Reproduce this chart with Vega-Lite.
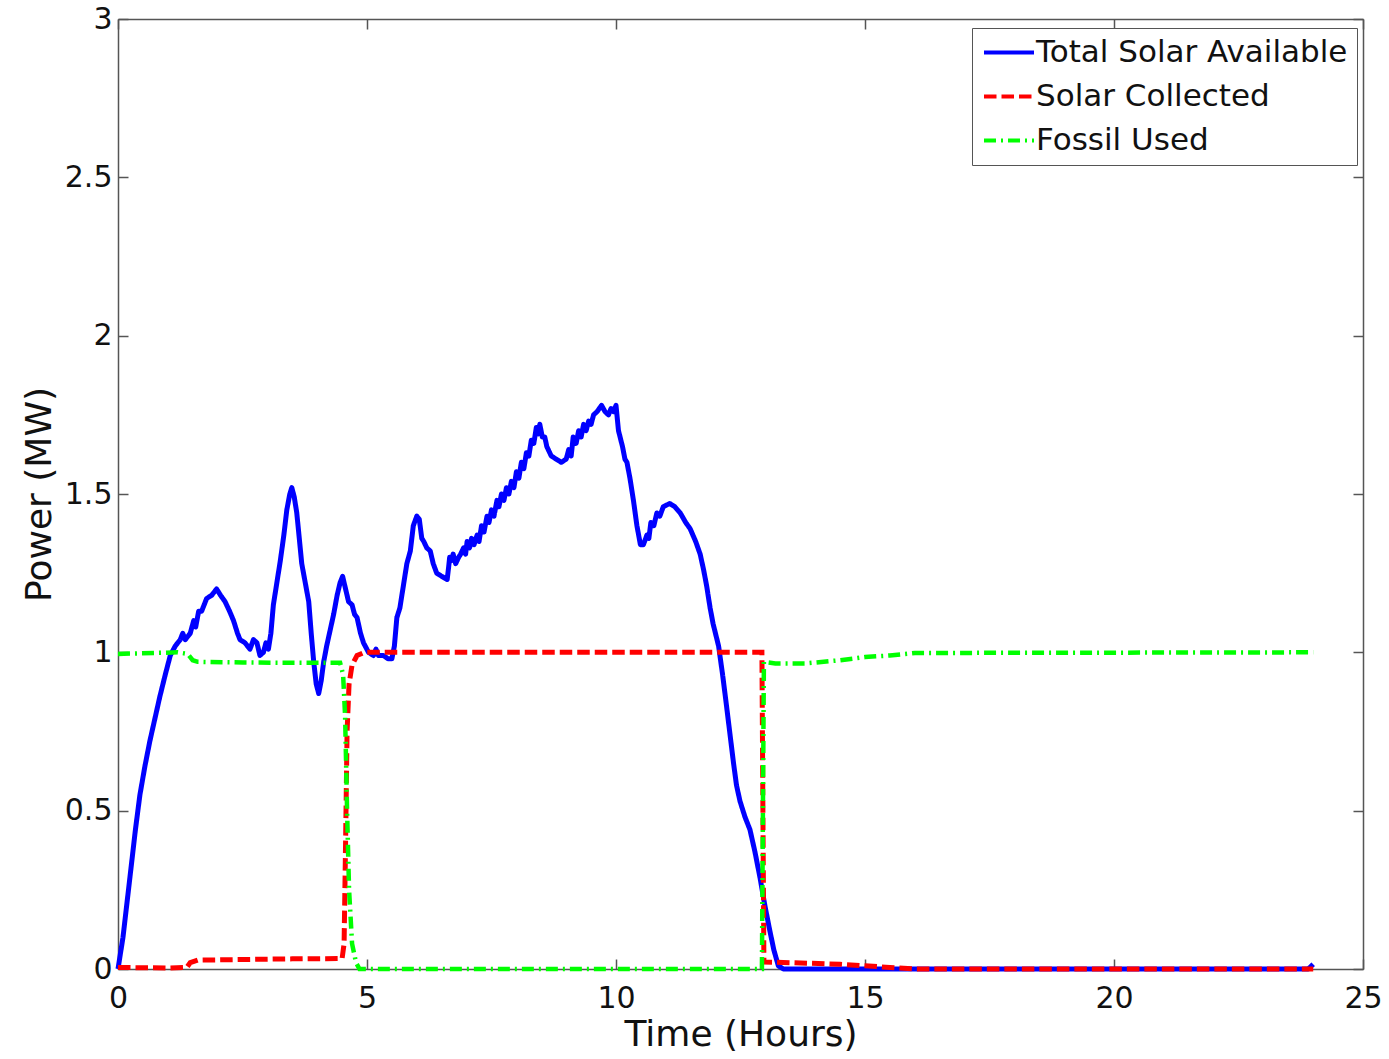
{
  "$schema": "https://vega.github.io/schema/vega-lite/v6.json",
  "width": 1245,
  "height": 950,
  "autosize": {"type": "none"},
  "padding": {"left": 118, "top": 19, "right": 26, "bottom": 90},
  "background": "white",
  "config": {
    "view": {"stroke": null},
    "font": "DejaVu Sans",
    "axis": {
      "grid": false,
      "domainColor": "#555555",
      "domainWidth": 1.5,
      "tickColor": "#555555",
      "tickWidth": 1.5,
      "tickSize": -10,
      "labelFont": "DejaVu Sans",
      "labelFontSize": 30,
      "labelColor": "#111111",
      "labelFlush": false,
      "labelOverlap": false,
      "titleFont": "DejaVu Sans",
      "titleFontSize": 36,
      "titleFontWeight": "normal",
      "titleColor": "#111111"
    },
    "legend": {
      "orient": "none",
      "legendX": 854,
      "legendY": 9,
      "labelFont": "DejaVu Sans",
      "labelFontSize": 31,
      "labelColor": "#111111",
      "labelLimit": 0,
      "labelOffset": 24,
      "symbolType": "M-1,0H3",
      "symbolSize": 625,
      "symbolStrokeWidth": 4,
      "strokeColor": "#555555",
      "fillColor": "white",
      "padding": 9,
      "rowPadding": 12,
      "cornerRadius": 0
    }
  },
  "datasets": {
    "solar": [
      {"t": 0, "v": 0, "s": "Total Solar Available"},
      {"t": 0.1, "v": 0.1, "s": "Total Solar Available"},
      {"t": 0.24, "v": 0.29, "s": "Total Solar Available"},
      {"t": 0.35, "v": 0.44, "s": "Total Solar Available"},
      {"t": 0.44, "v": 0.55, "s": "Total Solar Available"},
      {"t": 0.54, "v": 0.64, "s": "Total Solar Available"},
      {"t": 0.64, "v": 0.72, "s": "Total Solar Available"},
      {"t": 0.74, "v": 0.79, "s": "Total Solar Available"},
      {"t": 0.84, "v": 0.86, "s": "Total Solar Available"},
      {"t": 0.95, "v": 0.93, "s": "Total Solar Available"},
      {"t": 1.05, "v": 0.99, "s": "Total Solar Available"},
      {"t": 1.15, "v": 1.02, "s": "Total Solar Available"},
      {"t": 1.25, "v": 1.04, "s": "Total Solar Available"},
      {"t": 1.3, "v": 1.06, "s": "Total Solar Available"},
      {"t": 1.35, "v": 1.04, "s": "Total Solar Available"},
      {"t": 1.45, "v": 1.06, "s": "Total Solar Available"},
      {"t": 1.52, "v": 1.1, "s": "Total Solar Available"},
      {"t": 1.56, "v": 1.08, "s": "Total Solar Available"},
      {"t": 1.62, "v": 1.13, "s": "Total Solar Available"},
      {"t": 1.68, "v": 1.13, "s": "Total Solar Available"},
      {"t": 1.78, "v": 1.17, "s": "Total Solar Available"},
      {"t": 1.88, "v": 1.18, "s": "Total Solar Available"},
      {"t": 1.98, "v": 1.2, "s": "Total Solar Available"},
      {"t": 2.06, "v": 1.18, "s": "Total Solar Available"},
      {"t": 2.15, "v": 1.16, "s": "Total Solar Available"},
      {"t": 2.24, "v": 1.13, "s": "Total Solar Available"},
      {"t": 2.32, "v": 1.1, "s": "Total Solar Available"},
      {"t": 2.4, "v": 1.06, "s": "Total Solar Available"},
      {"t": 2.45, "v": 1.04, "s": "Total Solar Available"},
      {"t": 2.55, "v": 1.03, "s": "Total Solar Available"},
      {"t": 2.65, "v": 1.01, "s": "Total Solar Available"},
      {"t": 2.72, "v": 1.04, "s": "Total Solar Available"},
      {"t": 2.79, "v": 1.03, "s": "Total Solar Available"},
      {"t": 2.85, "v": 0.99, "s": "Total Solar Available"},
      {"t": 2.92, "v": 1.0, "s": "Total Solar Available"},
      {"t": 2.97, "v": 1.03, "s": "Total Solar Available"},
      {"t": 3.02, "v": 1.01, "s": "Total Solar Available"},
      {"t": 3.07, "v": 1.06, "s": "Total Solar Available"},
      {"t": 3.12, "v": 1.15, "s": "Total Solar Available"},
      {"t": 3.19, "v": 1.22, "s": "Total Solar Available"},
      {"t": 3.26, "v": 1.29, "s": "Total Solar Available"},
      {"t": 3.33, "v": 1.37, "s": "Total Solar Available"},
      {"t": 3.39, "v": 1.45, "s": "Total Solar Available"},
      {"t": 3.45, "v": 1.5, "s": "Total Solar Available"},
      {"t": 3.49, "v": 1.52, "s": "Total Solar Available"},
      {"t": 3.54, "v": 1.49, "s": "Total Solar Available"},
      {"t": 3.59, "v": 1.44, "s": "Total Solar Available"},
      {"t": 3.64, "v": 1.36, "s": "Total Solar Available"},
      {"t": 3.69, "v": 1.28, "s": "Total Solar Available"},
      {"t": 3.76, "v": 1.22, "s": "Total Solar Available"},
      {"t": 3.83, "v": 1.16, "s": "Total Solar Available"},
      {"t": 3.88, "v": 1.06, "s": "Total Solar Available"},
      {"t": 3.93, "v": 0.97, "s": "Total Solar Available"},
      {"t": 3.98, "v": 0.9, "s": "Total Solar Available"},
      {"t": 4.03, "v": 0.87, "s": "Total Solar Available"},
      {"t": 4.08, "v": 0.91, "s": "Total Solar Available"},
      {"t": 4.13, "v": 0.97, "s": "Total Solar Available"},
      {"t": 4.19, "v": 1.02, "s": "Total Solar Available"},
      {"t": 4.26, "v": 1.07, "s": "Total Solar Available"},
      {"t": 4.33, "v": 1.12, "s": "Total Solar Available"},
      {"t": 4.4, "v": 1.18, "s": "Total Solar Available"},
      {"t": 4.46, "v": 1.22, "s": "Total Solar Available"},
      {"t": 4.51, "v": 1.24, "s": "Total Solar Available"},
      {"t": 4.57, "v": 1.2, "s": "Total Solar Available"},
      {"t": 4.63, "v": 1.16, "s": "Total Solar Available"},
      {"t": 4.7, "v": 1.15, "s": "Total Solar Available"},
      {"t": 4.75, "v": 1.12, "s": "Total Solar Available"},
      {"t": 4.8, "v": 1.11, "s": "Total Solar Available"},
      {"t": 4.87, "v": 1.06, "s": "Total Solar Available"},
      {"t": 4.93, "v": 1.03, "s": "Total Solar Available"},
      {"t": 5.03, "v": 1.0, "s": "Total Solar Available"},
      {"t": 5.13, "v": 0.99, "s": "Total Solar Available"},
      {"t": 5.18, "v": 1.01, "s": "Total Solar Available"},
      {"t": 5.23, "v": 0.99, "s": "Total Solar Available"},
      {"t": 5.33, "v": 0.99, "s": "Total Solar Available"},
      {"t": 5.42, "v": 0.98, "s": "Total Solar Available"},
      {"t": 5.5, "v": 0.98, "s": "Total Solar Available"},
      {"t": 5.55, "v": 1.02, "s": "Total Solar Available"},
      {"t": 5.6, "v": 1.11, "s": "Total Solar Available"},
      {"t": 5.66, "v": 1.14, "s": "Total Solar Available"},
      {"t": 5.74, "v": 1.22, "s": "Total Solar Available"},
      {"t": 5.8, "v": 1.28, "s": "Total Solar Available"},
      {"t": 5.87, "v": 1.32, "s": "Total Solar Available"},
      {"t": 5.93, "v": 1.4, "s": "Total Solar Available"},
      {"t": 6.0, "v": 1.43, "s": "Total Solar Available"},
      {"t": 6.05, "v": 1.42, "s": "Total Solar Available"},
      {"t": 6.1, "v": 1.36, "s": "Total Solar Available"},
      {"t": 6.14, "v": 1.35, "s": "Total Solar Available"},
      {"t": 6.2, "v": 1.33, "s": "Total Solar Available"},
      {"t": 6.27, "v": 1.32, "s": "Total Solar Available"},
      {"t": 6.33, "v": 1.28, "s": "Total Solar Available"},
      {"t": 6.4, "v": 1.25, "s": "Total Solar Available"},
      {"t": 6.5, "v": 1.24, "s": "Total Solar Available"},
      {"t": 6.61, "v": 1.23, "s": "Total Solar Available"},
      {"t": 6.64, "v": 1.27, "s": "Total Solar Available"},
      {"t": 6.66, "v": 1.3, "s": "Total Solar Available"},
      {"t": 6.7, "v": 1.29, "s": "Total Solar Available"},
      {"t": 6.73, "v": 1.31, "s": "Total Solar Available"},
      {"t": 6.78, "v": 1.28, "s": "Total Solar Available"},
      {"t": 6.84, "v": 1.3, "s": "Total Solar Available"},
      {"t": 6.88, "v": 1.31, "s": "Total Solar Available"},
      {"t": 6.94, "v": 1.33, "s": "Total Solar Available"},
      {"t": 6.98, "v": 1.31, "s": "Total Solar Available"},
      {"t": 7.01, "v": 1.35, "s": "Total Solar Available"},
      {"t": 7.06, "v": 1.33, "s": "Total Solar Available"},
      {"t": 7.1, "v": 1.36, "s": "Total Solar Available"},
      {"t": 7.15, "v": 1.34, "s": "Total Solar Available"},
      {"t": 7.21, "v": 1.37, "s": "Total Solar Available"},
      {"t": 7.25, "v": 1.35, "s": "Total Solar Available"},
      {"t": 7.3, "v": 1.4, "s": "Total Solar Available"},
      {"t": 7.35, "v": 1.38, "s": "Total Solar Available"},
      {"t": 7.41, "v": 1.43, "s": "Total Solar Available"},
      {"t": 7.45, "v": 1.41, "s": "Total Solar Available"},
      {"t": 7.5, "v": 1.45, "s": "Total Solar Available"},
      {"t": 7.55, "v": 1.43, "s": "Total Solar Available"},
      {"t": 7.61, "v": 1.48, "s": "Total Solar Available"},
      {"t": 7.65, "v": 1.46, "s": "Total Solar Available"},
      {"t": 7.7, "v": 1.5, "s": "Total Solar Available"},
      {"t": 7.75, "v": 1.48, "s": "Total Solar Available"},
      {"t": 7.8, "v": 1.52, "s": "Total Solar Available"},
      {"t": 7.85, "v": 1.5, "s": "Total Solar Available"},
      {"t": 7.9, "v": 1.54, "s": "Total Solar Available"},
      {"t": 7.95, "v": 1.52, "s": "Total Solar Available"},
      {"t": 8.0, "v": 1.57, "s": "Total Solar Available"},
      {"t": 8.05, "v": 1.55, "s": "Total Solar Available"},
      {"t": 8.1, "v": 1.6, "s": "Total Solar Available"},
      {"t": 8.15, "v": 1.58, "s": "Total Solar Available"},
      {"t": 8.2, "v": 1.63, "s": "Total Solar Available"},
      {"t": 8.25, "v": 1.62, "s": "Total Solar Available"},
      {"t": 8.3, "v": 1.67, "s": "Total Solar Available"},
      {"t": 8.35, "v": 1.66, "s": "Total Solar Available"},
      {"t": 8.4, "v": 1.71, "s": "Total Solar Available"},
      {"t": 8.44, "v": 1.69, "s": "Total Solar Available"},
      {"t": 8.47, "v": 1.72, "s": "Total Solar Available"},
      {"t": 8.52, "v": 1.68, "s": "Total Solar Available"},
      {"t": 8.57, "v": 1.68, "s": "Total Solar Available"},
      {"t": 8.61, "v": 1.65, "s": "Total Solar Available"},
      {"t": 8.7, "v": 1.62, "s": "Total Solar Available"},
      {"t": 8.8, "v": 1.61, "s": "Total Solar Available"},
      {"t": 8.9, "v": 1.6, "s": "Total Solar Available"},
      {"t": 9.0, "v": 1.61, "s": "Total Solar Available"},
      {"t": 9.05, "v": 1.64, "s": "Total Solar Available"},
      {"t": 9.1, "v": 1.62, "s": "Total Solar Available"},
      {"t": 9.14, "v": 1.68, "s": "Total Solar Available"},
      {"t": 9.2, "v": 1.66, "s": "Total Solar Available"},
      {"t": 9.25, "v": 1.7, "s": "Total Solar Available"},
      {"t": 9.3, "v": 1.68, "s": "Total Solar Available"},
      {"t": 9.35, "v": 1.72, "s": "Total Solar Available"},
      {"t": 9.4, "v": 1.7, "s": "Total Solar Available"},
      {"t": 9.45, "v": 1.73, "s": "Total Solar Available"},
      {"t": 9.5, "v": 1.72, "s": "Total Solar Available"},
      {"t": 9.55, "v": 1.75, "s": "Total Solar Available"},
      {"t": 9.62, "v": 1.76, "s": "Total Solar Available"},
      {"t": 9.71, "v": 1.78, "s": "Total Solar Available"},
      {"t": 9.78, "v": 1.76, "s": "Total Solar Available"},
      {"t": 9.85, "v": 1.75, "s": "Total Solar Available"},
      {"t": 9.9, "v": 1.77, "s": "Total Solar Available"},
      {"t": 9.95, "v": 1.76, "s": "Total Solar Available"},
      {"t": 10.0, "v": 1.78, "s": "Total Solar Available"},
      {"t": 10.05, "v": 1.7, "s": "Total Solar Available"},
      {"t": 10.13, "v": 1.65, "s": "Total Solar Available"},
      {"t": 10.18, "v": 1.61, "s": "Total Solar Available"},
      {"t": 10.22, "v": 1.6, "s": "Total Solar Available"},
      {"t": 10.28, "v": 1.55, "s": "Total Solar Available"},
      {"t": 10.35, "v": 1.48, "s": "Total Solar Available"},
      {"t": 10.42, "v": 1.4, "s": "Total Solar Available"},
      {"t": 10.49, "v": 1.34, "s": "Total Solar Available"},
      {"t": 10.55, "v": 1.34, "s": "Total Solar Available"},
      {"t": 10.62, "v": 1.37, "s": "Total Solar Available"},
      {"t": 10.66, "v": 1.36, "s": "Total Solar Available"},
      {"t": 10.7, "v": 1.41, "s": "Total Solar Available"},
      {"t": 10.76, "v": 1.4, "s": "Total Solar Available"},
      {"t": 10.82, "v": 1.44, "s": "Total Solar Available"},
      {"t": 10.88, "v": 1.43, "s": "Total Solar Available"},
      {"t": 10.95, "v": 1.46, "s": "Total Solar Available"},
      {"t": 11.08, "v": 1.47, "s": "Total Solar Available"},
      {"t": 11.18, "v": 1.46, "s": "Total Solar Available"},
      {"t": 11.29, "v": 1.44, "s": "Total Solar Available"},
      {"t": 11.4, "v": 1.41, "s": "Total Solar Available"},
      {"t": 11.49, "v": 1.39, "s": "Total Solar Available"},
      {"t": 11.6, "v": 1.35, "s": "Total Solar Available"},
      {"t": 11.69, "v": 1.31, "s": "Total Solar Available"},
      {"t": 11.76, "v": 1.26, "s": "Total Solar Available"},
      {"t": 11.82, "v": 1.21, "s": "Total Solar Available"},
      {"t": 11.89, "v": 1.14, "s": "Total Solar Available"},
      {"t": 11.95, "v": 1.09, "s": "Total Solar Available"},
      {"t": 12.06, "v": 1.02, "s": "Total Solar Available"},
      {"t": 12.14, "v": 0.93, "s": "Total Solar Available"},
      {"t": 12.22, "v": 0.83, "s": "Total Solar Available"},
      {"t": 12.29, "v": 0.74, "s": "Total Solar Available"},
      {"t": 12.36, "v": 0.65, "s": "Total Solar Available"},
      {"t": 12.42, "v": 0.58, "s": "Total Solar Available"},
      {"t": 12.49, "v": 0.53, "s": "Total Solar Available"},
      {"t": 12.59, "v": 0.48, "s": "Total Solar Available"},
      {"t": 12.69, "v": 0.44, "s": "Total Solar Available"},
      {"t": 12.79, "v": 0.37, "s": "Total Solar Available"},
      {"t": 12.89, "v": 0.29, "s": "Total Solar Available"},
      {"t": 12.99, "v": 0.2, "s": "Total Solar Available"},
      {"t": 13.09, "v": 0.12, "s": "Total Solar Available"},
      {"t": 13.17, "v": 0.06, "s": "Total Solar Available"},
      {"t": 13.26, "v": 0.01, "s": "Total Solar Available"},
      {"t": 13.36, "v": 0.0, "s": "Total Solar Available"},
      {"t": 23.9, "v": 0.0, "s": "Total Solar Available"},
      {"t": 24.0, "v": 0.015, "s": "Total Solar Available"}
    ],
    "collected": [
      {"t": 0, "v": 0.005, "s": "Solar Collected"},
      {"t": 1.0, "v": 0.003, "s": "Solar Collected"},
      {"t": 1.38, "v": 0.005, "s": "Solar Collected"},
      {"t": 1.45, "v": 0.02, "s": "Solar Collected"},
      {"t": 1.6, "v": 0.028, "s": "Solar Collected"},
      {"t": 2.5, "v": 0.03, "s": "Solar Collected"},
      {"t": 3.5, "v": 0.032, "s": "Solar Collected"},
      {"t": 4.5, "v": 0.033, "s": "Solar Collected"},
      {"t": 4.54, "v": 0.08, "s": "Solar Collected"},
      {"t": 4.57, "v": 0.4, "s": "Solar Collected"},
      {"t": 4.6, "v": 0.75, "s": "Solar Collected"},
      {"t": 4.64, "v": 0.9, "s": "Solar Collected"},
      {"t": 4.7, "v": 0.96, "s": "Solar Collected"},
      {"t": 4.8, "v": 0.99, "s": "Solar Collected"},
      {"t": 4.95, "v": 1.0, "s": "Solar Collected"},
      {"t": 12.93, "v": 1.0, "s": "Solar Collected"},
      {"t": 12.95, "v": 0.5, "s": "Solar Collected"},
      {"t": 12.97, "v": 0.022, "s": "Solar Collected"},
      {"t": 13.5, "v": 0.02, "s": "Solar Collected"},
      {"t": 14.5, "v": 0.015, "s": "Solar Collected"},
      {"t": 15.0, "v": 0.01, "s": "Solar Collected"},
      {"t": 15.5, "v": 0.005, "s": "Solar Collected"},
      {"t": 16.0, "v": 0.0, "s": "Solar Collected"},
      {"t": 24.0, "v": 0.0, "s": "Solar Collected"}
    ],
    "fossil": [
      {"t": 0, "v": 0.995, "s": "Fossil Used"},
      {"t": 1.2, "v": 1.0, "s": "Fossil Used"},
      {"t": 1.4, "v": 0.995, "s": "Fossil Used"},
      {"t": 1.5, "v": 0.975, "s": "Fossil Used"},
      {"t": 1.6, "v": 0.97, "s": "Fossil Used"},
      {"t": 2.5, "v": 0.968, "s": "Fossil Used"},
      {"t": 3.5, "v": 0.967, "s": "Fossil Used"},
      {"t": 4.46, "v": 0.967, "s": "Fossil Used"},
      {"t": 4.52, "v": 0.93, "s": "Fossil Used"},
      {"t": 4.56, "v": 0.8, "s": "Fossil Used"},
      {"t": 4.6, "v": 0.5, "s": "Fossil Used"},
      {"t": 4.64, "v": 0.25, "s": "Fossil Used"},
      {"t": 4.7, "v": 0.08, "s": "Fossil Used"},
      {"t": 4.78, "v": 0.02, "s": "Fossil Used"},
      {"t": 4.85, "v": 0.0, "s": "Fossil Used"},
      {"t": 12.93, "v": 0.0, "s": "Fossil Used"},
      {"t": 12.95, "v": 0.5, "s": "Fossil Used"},
      {"t": 12.97, "v": 0.97, "s": "Fossil Used"},
      {"t": 13.2, "v": 0.965, "s": "Fossil Used"},
      {"t": 13.8, "v": 0.965, "s": "Fossil Used"},
      {"t": 14.5, "v": 0.975, "s": "Fossil Used"},
      {"t": 15.0, "v": 0.985, "s": "Fossil Used"},
      {"t": 15.5, "v": 0.99, "s": "Fossil Used"},
      {"t": 16.0, "v": 0.998, "s": "Fossil Used"},
      {"t": 24.0, "v": 1.0, "s": "Fossil Used"}
    ],
    "frame": [{"t": 0, "v": 0}]
  },
  "layer": [
    {
      "data": {"name": "solar"},
      "mark": {"type": "line", "strokeWidth": 5, "strokeJoin": "round"},
      "encoding": {
        "x": {"field": "t", "type": "quantitative", "scale": {"domain": [0, 25], "nice": false, "zero": false},
              "axis": {"orient": "bottom", "values": [0, 5, 10, 15, 20, 25], "format": "~g", "title": "Time (Hours)", "labelPadding": 24, "titleBaseline": "alphabetic", "titleY": 76}},
        "y": {"field": "v", "type": "quantitative", "scale": {"domain": [0, 3], "nice": false, "zero": false},
              "axis": {"orient": "left", "values": [0, 0.5, 1, 1.5, 2, 2.5, 3], "format": "~g", "title": "Power (MW)", "labelPadding": 16, "titleBaseline": "alphabetic", "titleX": -68}},
        "color": {"field": "s", "type": "nominal", "title": null,
                  "scale": {"domain": ["Total Solar Available", "Solar Collected", "Fossil Used"], "range": ["#0000ff", "#ff0000", "#00ff00"]}},
        "strokeDash": {"field": "s", "type": "nominal", "title": null,
                  "scale": {"domain": ["Total Solar Available", "Solar Collected", "Fossil Used"], "range": [[1, 0], [12.5, 5], [12, 5, 2, 5]]}}
      }
    },
    {
      "data": {"name": "collected"},
      "mark": {"type": "line", "strokeWidth": 5},
      "encoding": {
        "x": {"field": "t", "type": "quantitative", "axis": null},
        "y": {"field": "v", "type": "quantitative", "axis": null},
        "color": {"field": "s", "type": "nominal", "title": null},
        "strokeDash": {"field": "s", "type": "nominal", "title": null}
      }
    },
    {
      "data": {"name": "fossil"},
      "mark": {"type": "line", "strokeWidth": 4.5},
      "encoding": {
        "x": {"field": "t", "type": "quantitative", "axis": null},
        "y": {"field": "v", "type": "quantitative", "axis": null},
        "color": {"field": "s", "type": "nominal", "title": null},
        "strokeDash": {"field": "s", "type": "nominal", "title": null}
      }
    },
    {
      "data": {"name": "frame"},
      "mark": {"type": "point", "opacity": 0},
      "encoding": {
        "x": {"field": "t", "type": "quantitative", "axis": {"orient": "top", "values": [0, 5, 10, 15, 20, 25], "labels": false, "title": null}},
        "y": {"field": "v", "type": "quantitative", "axis": {"orient": "right", "values": [0, 0.5, 1, 1.5, 2, 2.5, 3], "labels": false, "title": null}}
      }
    }
  ],
  "resolve": {"axis": {"x": "independent", "y": "independent"}}
}
